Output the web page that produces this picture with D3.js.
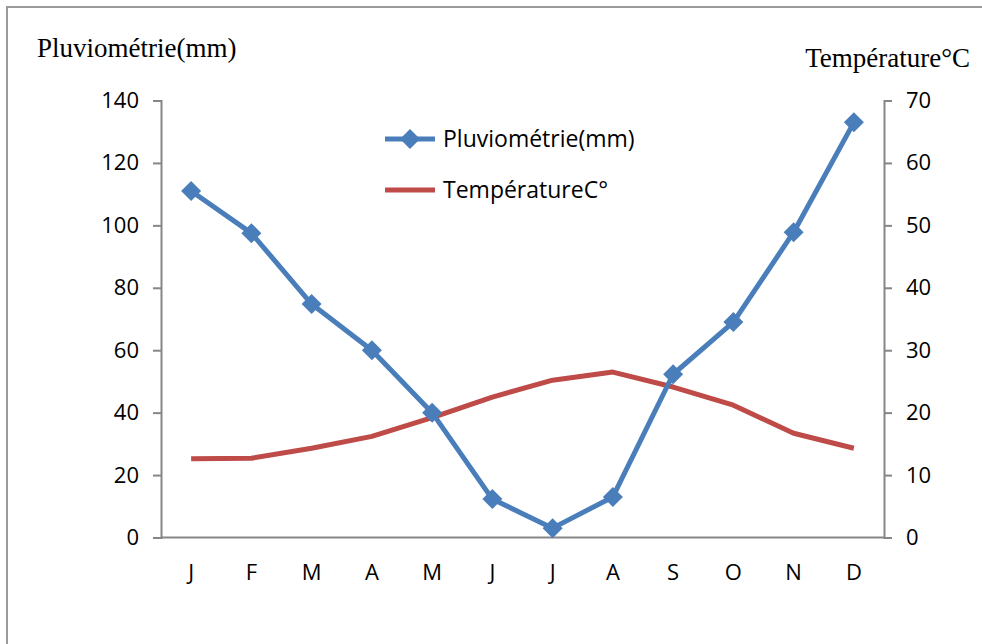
<!DOCTYPE html>
<html><head><meta charset="utf-8">
<script src="https://cdn.jsdelivr.net/npm/d3@7"></script>
<style>body{margin:0;background:#fff}svg{display:block}</style>
</head><body>
<script>
const months = ["J","F","M","A","M","J","J","A","S","O","N","D"];
const rain = [111, 97.5, 74.8, 60, 40, 12.3, 3, 13, 52.3, 69, 97.8, 133];
const temp = [12.6, 12.7, 14.3, 16.2, 19.2, 22.5, 25.2, 26.5, 24.1, 21.2, 16.7, 14.3];
const leftTicks = [0,20,40,60,80,100,120,140];
const rightTicks = [0,10,20,30,40,50,60,70];
const rainLabel = "Pluviométrie(mm)";
const tempLabel = "TempératureC°";
const leftTitle = "Pluviométrie(mm)";
const rightTitle = "Température°C";

const W = 982, H = 644;
const svg = d3.select("body").append("svg").attr("width", W).attr("height", H);
const blue = "#4a7ebb", red = "#be4b48", axisCol = "#868686";
const font = "'Open Sans', sans-serif";
const serif = "'Liberation Serif', 'Times New Roman', serif";

// frame
svg.append("path").attr("d", `M7,${H} V7 H${W}`).attr("fill","none").attr("stroke","#9a9a9a").attr("stroke-width",2);

const x0 = 161, x1 = 884, yTop = 100.5, yBot = 537.5;
const x = d3.scaleBand().domain(d3.range(12)).range([x0, x1]);
const yL = d3.scaleLinear().domain([0,140]).range([yBot, yTop]);
const yR = d3.scaleLinear().domain([0,70]).range([yBot, yTop]);
const cx = i => x(i) + x.bandwidth()/2;

function styleAxis(g){
  g.selectAll("path.domain").attr("stroke", axisCol).attr("stroke-width", 2);
  g.selectAll(".tick line").attr("stroke", axisCol).attr("stroke-width", 2);
  g.selectAll("text").attr("font-family", font).attr("font-size", 22).attr("fill", "#000");
}
svg.append("g").attr("transform", `translate(${x0},0)`)
  .call(d3.axisLeft(yL).tickValues(leftTicks).tickSize(8).tickSizeOuter(8).tickPadding(14))
  .call(styleAxis);
svg.append("g").attr("transform", `translate(${x1},0)`)
  .call(d3.axisRight(yR).tickValues(rightTicks).tickSize(8).tickSizeOuter(8).tickPadding(14))
  .call(styleAxis);
const gx = svg.append("g").attr("transform", `translate(0,${yBot})`)
  .call(d3.axisBottom(x).tickFormat(i => months[i]).tickSize(0).tickPadding(27));
gx.selectAll("path.domain").attr("stroke", axisCol).attr("stroke-width", 2).attr("d", `M${x0},0H${x1}`);
gx.selectAll("text").attr("font-family", font).attr("font-size", 22).attr("fill", "#000");

// temperature line
svg.append("path").datum(temp)
  .attr("d", d3.line().x((d,i)=>cx(i)).y(d=>yR(d)))
  .attr("fill","none").attr("stroke", red).attr("stroke-width", 5).attr("stroke-linejoin","round");

// rain line
svg.append("path").datum(rain)
  .attr("d", d3.line().x((d,i)=>cx(i)).y(d=>yL(d)))
  .attr("fill","none").attr("stroke", blue).attr("stroke-width", 5).attr("stroke-linejoin","round");
svg.selectAll(".pt").data(rain).enter().append("path")
  .attr("transform", (d,i)=>`translate(${cx(i)},${yL(d)}) rotate(45)`)
  .attr("d", d3.symbol().type(d3.symbolSquare).size(200)())
  .attr("fill", blue);

// titles
svg.append("text").attr("x", 37).attr("y", 57).text(leftTitle)
  .attr("font-family", serif).attr("font-size", 27);
svg.append("text").attr("x", 970).attr("y", 67).attr("text-anchor","end").text(rightTitle)
  .attr("font-family", serif).attr("font-size", 27);

// legend
const lg = svg.append("g");
lg.append("line").attr("x1",385).attr("x2",435).attr("y1",139).attr("y2",139).attr("stroke",blue).attr("stroke-width",5);
lg.append("path").attr("transform","translate(410,139) rotate(45)").attr("d", d3.symbol().type(d3.symbolSquare).size(200)()).attr("fill",blue);
lg.append("text").attr("x",443).attr("y",139).attr("dy","0.35em").text(rainLabel).attr("font-family",font).attr("font-size",23);
lg.append("line").attr("x1",385).attr("x2",435).attr("y1",190).attr("y2",190).attr("stroke",red).attr("stroke-width",5);
lg.append("text").attr("x",443).attr("y",190).attr("dy","0.35em").text(tempLabel).attr("font-family",font).attr("font-size",23);
</script>
</body></html>
